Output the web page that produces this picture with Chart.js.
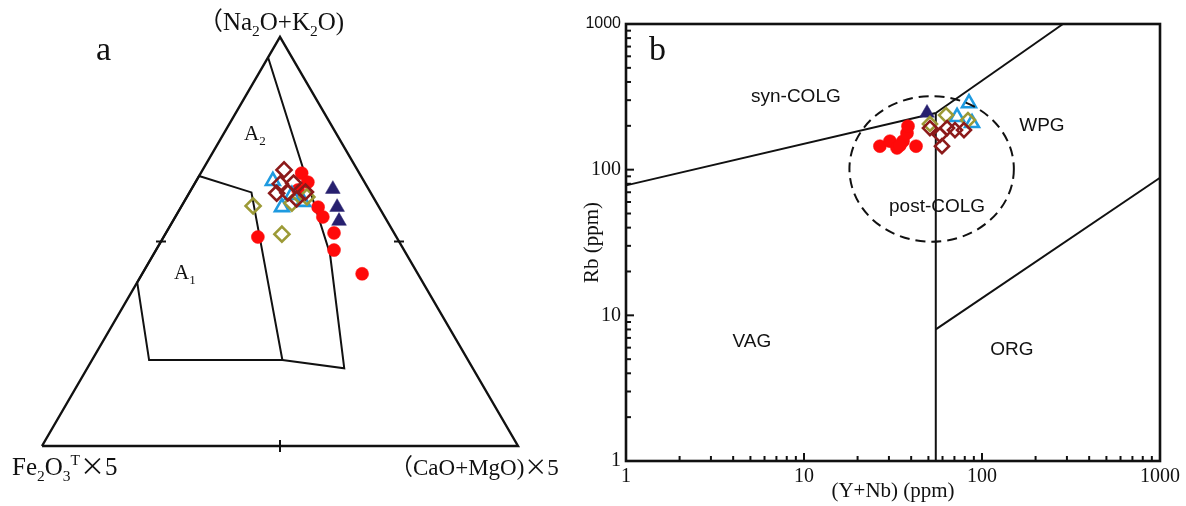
<!DOCTYPE html>
<html><head><meta charset="utf-8">
<script src="https://cdn.jsdelivr.net/npm/chart.js@4.4.0/dist/chart.umd.min.js"></script>
<style>
html,body{margin:0;padding:0;background:#fff;width:1186px;height:506px;overflow:hidden}
#ca{position:absolute;left:0;top:0}
#cb{position:absolute;left:580px;top:0}
</style></head><body>
<canvas id="ca" width="580" height="506"></canvas>
<canvas id="cb" width="606" height="506"></canvas>
<script>
const FAM_SERIF = '"Liberation Serif","Times New Roman",serif';
const FAM_SANS = '"Liberation Sans",Arial,sans-serif';
const FAM_CJK = '"Noto Sans CJK SC",serif';
const INK = '#111';

const COL_RED = '#ff0a0a';
const COL_NAVY = '#27206f';
const COL_BLUE = '#1e9ae0';
const COL_OLIVE = '#9c9a36';
const COL_MAROON = '#8c1a1a';

// ---------- Panel a: ternary compositions [Fe2O3T×5, Na2O+K2O, (CaO+MgO)×5] (%) ----------
const aRedCircles = [[12.1,66.7,21.2],[11.9,64.5,23.6],[14.9,62.6,22.5],[12.8,58.4,28.8],[13.0,56.0,31.0],[12.6,52.1,35.3],[14.7,47.9,37.4],[29.1,51.1,19.8],[11.7,42.1,46.2]];
const aNavyTriangles = [[7.5,62.8,29.7],[8.8,58.4,32.8],[10.1,55.0,34.9]];
const aBlueTriangles = [[19.1,64.8,16.1],[20.4,58.4,21.2],[15.3,59.7,25.0],[16.8,61.4,21.8]];
const aOliveDiamonds = [[26.3,58.7,15.0],[23.7,51.8,24.5],[17.8,59.4,22.8],[13.9,60.9,25.2]];
const aMaroonDiamonds = [[15.4,67.5,17.1],[17.9,64.1,18.0],[15.0,64.3,20.7],[19.8,61.8,18.4],[17.4,61.9,20.7],[13.6,62.1,24.3],[16.3,60.4,23.3]];
// field boundaries (ternary)
const aFrame = [[100,0,0],[0,100,0],[0,0,100],[100,0,0]];
const aFieldA1 = [[60,40,0],[34,66,0],[25,62,13],[39,21,40],[67,21,12],[60,40,0]];
const aFieldA2 = [[5,95,0],[16,47,37],[27,19,54],[39,21,40]];
const aSideTicks = [[50,0,50],[50,50,0],[0,50,50]];

// ---------- Panel b: Rb vs (Y+Nb) (ppm) ----------
const bYNbRed = [26.7,30.4,33.3,36.0,37.9,38.4,42.6,34.6];
const bRbRed  = [145,157,141,157,178,199,145,147];
const bYNbNavy = [49.1];
const bRbNavy  = [245];
const bYNbBlue = [84.5,87.9,72.4];
const bRbBlue  = [286,209,230];
const bYNbOlive = [62.8,83.4,51.0];
const bRbOlive  = [237,219,206];
const bYNbMaroon = [51.0,63.6,70.5,79.2,59.6,58.1];
const bRbMaroon  = [193,193,187,187,145,173];
// field boundaries
const bLineSynVag = [[1,78],[55,245]];
const bLineSynWpg = [[55,245],[285,1000]];
const bLineVertical = [[55,1],[55,245]];
const bLineOrgWpg = [[55,8],[1000,88]];
const bPostColg = {xMin:18, xMax:151, yMin:32, yMax:320};
const bXTicks = [1,10,100,1000];
const bYTicks = [1,10,100,1000];
const bFieldLabels = [['syn-COLG',9.0,315],['WPG',217,200],['post-COLG',55.9,55.4],['VAG',5.1,6.56],['ORG',147,5.78]];

function tern(p){ const s=p[0]+p[1]+p[2]; const A=p[1]/s*100, C=p[2]/s*100; return {x:C+A/2, y:A}; }
function pairs(arr){ return arr.map(p=>({x:p[0],y:p[1]})); }
function zipXY(xs,ys){ return xs.map((x,i)=>({x:x,y:ys[i]})); }

function richText(ctx, segs, x, y, size, align){
  let w=0;
  segs.forEach(s=>{
    const sz = s.s ? size*0.62 : size;
    s.font = sz+'px '+(s.cjk?FAM_CJK:FAM_SERIF);
    ctx.font = s.font; s.w = ctx.measureText(s.t).width; w += s.w;
  });
  let cx = align==='center' ? x-w/2 : x;
  ctx.textAlign='left'; ctx.textBaseline='alphabetic';
  segs.forEach(s=>{
    ctx.font = s.font;
    const dy = s.s==='sub' ? size*0.22 : (s.s==='sup' ? -size*0.42 : 0);
    ctx.fillText(s.t, cx, y+dy); cx += s.w;
  });
}

function lineDs(points, width, order){
  return {type:'line', data:points, borderColor:INK, borderWidth:width, pointRadius:0, tension:0, fill:false, showLine:true, order:order, clip:false};
}
function ptDs(points, style, color, filled, radius, order){
  return {type:'scatter', data:points, pointStyle:style, pointRadius:radius, pointHoverRadius:radius, clip:false,
    backgroundColor: filled?color:'rgba(255,255,255,0)', borderColor:color, borderWidth: filled?0.5:2.6, order:order};
}

// ----- Chart a -----
const ternaryDecor = {
  id:'ternaryDecor',
  afterDatasetsDraw(chart){
    const ctx=chart.ctx, xs=chart.scales.x, ys=chart.scales.y;
    ctx.save();
    ctx.strokeStyle=INK; ctx.lineWidth=2;
    aSideTicks.forEach((t,i)=>{
      const c=tern(t); const px=xs.getPixelForValue(c.x), py=ys.getPixelForValue(c.y);
      ctx.beginPath();
      if(i===0){ ctx.moveTo(px,py-6); ctx.lineTo(px,py+6); }
      else { ctx.moveTo(px-5,py); ctx.lineTo(px+5,py); }
      ctx.stroke();
    });
    ctx.fillStyle=INK;
    const top=tern([0,100,0]), left=tern([100,0,0]), right=tern([0,0,100]);
    const tx=xs.getPixelForValue(top.x), ty=ys.getPixelForValue(top.y);
    richText(ctx,[{t:'（',cjk:true},{t:'Na'},{t:'2',s:'sub'},{t:'O+K'},{t:'2',s:'sub'},{t:'O)'}], tx-9, ty-7, 25, 'center');
    const lx=xs.getPixelForValue(left.x), ly=ys.getPixelForValue(left.y);
    richText(ctx,[{t:'Fe'},{t:'2',s:'sub'},{t:'O'},{t:'3',s:'sub'},{t:'T',s:'sup'},{t:'×',cjk:true},{t:'5'}], lx-30, ly+29, 25, 'left');
    const rx=xs.getPixelForValue(right.x);
    richText(ctx,[{t:'（',cjk:true},{t:'CaO+MgO)'},{t:'×',cjk:true},{t:'5'}], rx-128, ly+29, 23, 'left');
    richText(ctx,[{t:'a'}], 96, 60, 34, 'left');
    richText(ctx,[{t:'A'},{t:'2',s:'sub'}], 244, 140, 21, 'left');
    richText(ctx,[{t:'A'},{t:'1',s:'sub'}], 174, 279, 21, 'left');
    ctx.restore();
  }
};

new Chart(document.getElementById('ca'), {
  type:'scatter',
  data:{datasets:[
    lineDs(aFrame.map(tern), 2.4, 20),
    lineDs(aFieldA1.map(tern), 2, 21),
    lineDs(aFieldA2.map(tern), 2, 22),
    ptDs(aMaroonDiamonds.map(tern),'rectRot',COL_MAROON,false,7.5,1),
    ptDs(aOliveDiamonds.map(tern),'rectRot',COL_OLIVE,false,7.5,2),
    ptDs(aBlueTriangles.map(tern),'triangle',COL_BLUE,false,8,3),
    ptDs(aNavyTriangles.map(tern),'triangle',COL_NAVY,true,8.5,4),
    ptDs(aRedCircles.map(tern),'circle',COL_RED,true,6.5,5)
  ]},
  options:{
    responsive:false, animation:false, devicePixelRatio:1,
    layout:{padding:{left:42,right:62,top:37,bottom:60}},
    plugins:{legend:{display:false},tooltip:{enabled:false}},
    scales:{
      x:{type:'linear',min:0,max:100,display:false},
      y:{type:'linear',min:0,max:100,display:false}
    }
  },
  plugins:[ternaryDecor]
});

// ----- Chart b -----
const logDecor = {
  id:'logDecor',
  afterDatasetsDraw(chart){
    const ctx=chart.ctx, xs=chart.scales.x, ys=chart.scales.y, ca=chart.chartArea;
    ctx.save();
    // dashed ellipse (post-COLG field)
    const l=xs.getPixelForValue(bPostColg.xMin), r=xs.getPixelForValue(bPostColg.xMax);
    const t=ys.getPixelForValue(bPostColg.yMax), b=ys.getPixelForValue(bPostColg.yMin);
    ctx.setLineDash([10,6]); ctx.lineWidth=2; ctx.strokeStyle=INK;
    ctx.beginPath(); ctx.ellipse((l+r)/2,(t+b)/2,(r-l)/2,(b-t)/2,0,0,Math.PI*2); ctx.stroke();
    ctx.setLineDash([]);
    // frame
    ctx.lineWidth=2.6; ctx.strokeRect(ca.left,ca.top,ca.right-ca.left,ca.bottom-ca.top);
    // inward ticks
    ctx.lineWidth=2;
    [1,10,100].forEach(d=>{
      for(let m=1;m<=9;m++){
        const v=d*m; if(v===1) continue;
        const len = m===1?8:5;
        const px=xs.getPixelForValue(v);
        ctx.beginPath(); ctx.moveTo(px,ca.bottom); ctx.lineTo(px,ca.bottom-len); ctx.stroke();
        const py=ys.getPixelForValue(v);
        ctx.beginPath(); ctx.moveTo(ca.left,py); ctx.lineTo(ca.left+len,py); ctx.stroke();
      }
    });
    // field labels
    ctx.fillStyle=INK; ctx.font='19px '+FAM_SANS; ctx.textAlign='center'; ctx.textBaseline='middle';
    bFieldLabels.forEach(f=>{ ctx.fillText(f[0], xs.getPixelForValue(f[1]), ys.getPixelForValue(f[2])); });
    richText(ctx,[{t:'b'}], ca.left+23, ca.top+36, 34, 'left');
    ctx.restore();
  }
};

new Chart(document.getElementById('cb'), {
  type:'scatter',
  data:{datasets:[
    lineDs(pairs(bLineSynVag), 2, 20),
    lineDs(pairs(bLineSynWpg), 2, 21),
    lineDs(pairs(bLineVertical), 2, 22),
    lineDs(pairs(bLineOrgWpg), 2, 23),
    ptDs(zipXY(bYNbMaroon,bRbMaroon),'rectRot',COL_MAROON,false,7,1),
    ptDs(zipXY(bYNbOlive,bRbOlive),'rectRot',COL_OLIVE,false,7,2),
    ptDs(zipXY(bYNbBlue,bRbBlue),'triangle',COL_BLUE,false,8,3),
    ptDs(zipXY(bYNbNavy,bRbNavy),'triangle',COL_NAVY,true,8.5,4),
    ptDs(zipXY(bYNbRed,bRbRed),'circle',COL_RED,true,6.5,5)
  ]},
  options:{
    responsive:false, animation:false, devicePixelRatio:1,
    layout:{padding:{left:0,right:26,top:24,bottom:0}},
    plugins:{legend:{display:false},tooltip:{enabled:false}},
    scales:{
      x:{type:'logarithmic',min:1,max:1000,position:'bottom',
        afterBuildTicks:s=>{ s.ticks=bXTicks.map(v=>({value:v})); },
        afterFit:s=>{ s.height=45; },
        grid:{display:false,drawTicks:false}, border:{display:false},
        ticks:{callback:v=>String(v),font:{family:FAM_SERIF,size:20},color:INK,padding:4,maxRotation:0,autoSkip:false},
        title:{display:true,text:'(Y+Nb) (ppm)',font:{family:FAM_SERIF,size:21},color:INK,padding:{top:0,bottom:2}}
      },
      y:{type:'logarithmic',min:1,max:1000,position:'left',
        afterBuildTicks:s=>{ s.ticks=bYTicks.map(v=>({value:v})); },
        afterFit:s=>{ s.width=46; },
        grid:{display:false,drawTicks:false}, border:{display:false},
        ticks:{callback:v=>String(v),
          font:c=>(c.tick&&c.tick.value===1000)?{family:FAM_SANS,size:16}:{family:FAM_SERIF,size:20},
          color:INK,padding:5,autoSkip:false},
        title:{display:true,text:'Rb (ppm)',font:{family:FAM_SERIF,size:21},color:INK,padding:{top:0,bottom:0}}
      }
    }
  },
  plugins:[logDecor]
});
</script>
</body></html>
